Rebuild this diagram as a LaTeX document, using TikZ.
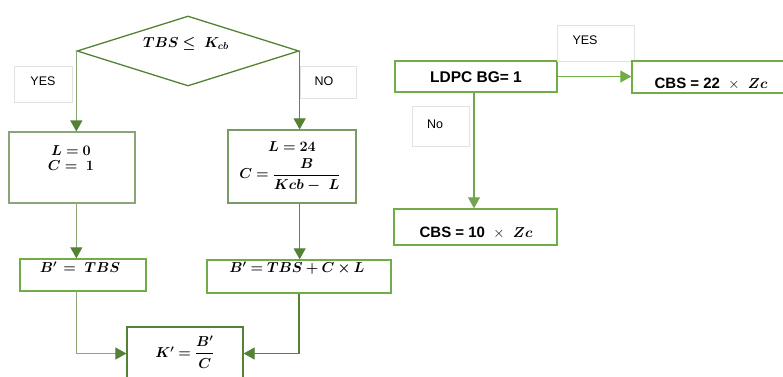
\documentclass[tikz,border=0pt]{standalone}
\usepackage{fontspec}
\setsansfont{Liberation Sans}
\usepackage{amsmath}
\usepackage{bm}
\usetikzlibrary{shapes.geometric,arrows.meta}
\definecolor{dkgreen}{HTML}{548235}
\definecolor{palegreen}{HTML}{8AA676}
\definecolor{brgreen}{HTML}{70AD47}
\definecolor{lblgray}{HTML}{E2E2E2}
\tikzset{
  gbox/.style={draw=dkgreen, line width=1.2pt, inner sep=0pt},
  bbox/.style={draw=brgreen, line width=1.4pt, inner sep=0pt},
  lblbox/.style={draw=lblgray, line width=0.6pt, inner sep=0pt},
  lbltext/.style={font=\fontsize{12.5}{14}\selectfont\sffamily, inner sep=0pt},
  mtext/.style={font=\fontsize{14}{17}\selectfont, inner sep=0pt, align=center},
  cbstext/.style={font=\fontsize{15}{17}\selectfont, inner sep=0pt},
  arrL/.style={draw=palegreen, line width=1.1pt, -{Triangle[length=11pt,width=12pt,fill=dkgreen,color=dkgreen]}},
  arrR/.style={draw=brgreen, line width=1.1pt, -{Triangle[length=11pt,width=12pt]}},
}
\begin{document}
\begin{tikzpicture}[x=1pt,y=-1pt]
\useasboundingbox (0,0) rectangle (783,376);
\clip (0,0) rectangle (783,376);
\fill[white] (0,0) rectangle (783,376);
% left part
\node[diamond, draw=dkgreen, line width=1.3pt, minimum width=222pt, minimum height=70pt, aspect=3.17, inner sep=0pt] (dia) at (188,51) {};
\node[mtext] (dtext) at (186,44) {$\bm{TBS \leq\ K_{cb}}$};
\node[lblbox, minimum width=58pt, minimum height=36pt] (yes1) at (43,84) {};
\node[lbltext] (yes1t) at (43,81) {YES};
\node[lblbox, minimum width=56pt, minimum height=32pt] (no1) at (328,82) {};
\node[lbltext] (no1t) at (324,81) {NO};
\node[draw=palegreen, line width=1.1pt, minimum width=126pt, minimum height=71pt, inner sep=0pt] (lbox) at (72,167.5) {};
\node[mtext] (lboxt) at (71,158) {$\bm{L = 0}$\\[-2pt]$\bm{C =\ 1}$};
\node[gbox, draw=palegreen!70!dkgreen, minimum width=128pt, minimum height=73pt] (rbox) at (292,166.5) {};
\node[mtext] (rbox1) at (292,147) {$\bm{L = 24}$};
\node[mtext] (rbox2) at (290,175) {$\bm{C = \dfrac{B}{Kcb -\ L}}$};
\node[bbox, minimum width=126pt, minimum height=32pt] (bl) at (83,275) {};
\node[mtext] (blt) at (80,267) {$\bm{B' \,=\ TBS}$};
\node[bbox, minimum width=184pt, minimum height=33pt] (br) at (299,276.5) {};
\node[mtext] (brt) at (297,268) {$\bm{B' = TBS + C \times L}$};
\node[gbox, minimum width=116pt, minimum height=53pt] (kbox) at (185,353.5) {};
\node[mtext] (kboxt) at (185,352) {$\bm{K' = \dfrac{B'}{C}}$};
\draw[arrL] (dia.west) -- (dia.west |- lbox.north);
\draw[arrL] (dia.west |- lbox.south) -- (dia.west |- bl.north);
\draw[arrL] (dia.west |- bl.south) -- (dia.west |- kbox.west) -- (kbox.west);
\draw[arrL, draw=dkgreen!80!palegreen] (dia.east) -- (dia.east |- rbox.north);
\draw[arrL, draw=dkgreen!80!palegreen] (dia.east |- rbox.south) -- (dia.east |- br.north);
\draw[arrL, draw=dkgreen] (br.south) -- (br.south |- kbox.east) -- (kbox.east);
% right part
\node[bbox, minimum width=162pt, minimum height=31pt] (ldpc) at (476,76.5) {};
\node[font=\fontsize{15.5}{17}\selectfont\sffamily\bfseries, inner sep=0pt] (ldpct) at (476,77) {LDPC BG= 1};
\node[lblbox, minimum width=77pt, minimum height=36pt] (yes2) at (595.5,43) {};
\node[lbltext] (yes2t) at (585,40) {YES};
\node[bbox, minimum width=168pt, minimum height=32pt] (cbs22) at (716,77) {};
\node[cbstext] (cbs22t) at (711,84) {{\sffamily\bfseries CBS = 22}\;\;$\times$\;\;$\bm{Zc}$};
\node[lblbox, minimum width=57pt, minimum height=40pt] (no2) at (440.5,126) {};
\node[lbltext] (no2t) at (435,124) {No};
\node[bbox, minimum width=163pt, minimum height=36pt] (cbs10) at (475.5,227) {};
\node[cbstext] (cbs10t) at (476,233) {{\sffamily\bfseries CBS = 10}\;\;$\times$\;\;$\bm{Zc}$};
\draw[arrR] (ldpc.east) -- (cbs22.west |- ldpc.east);
\draw[arrR, draw=brgreen!80!gray] ([xshift=-2pt]ldpc.south) -- ([xshift=-2pt]ldpc.south |- cbs10.north);
\end{tikzpicture}
\end{document}
